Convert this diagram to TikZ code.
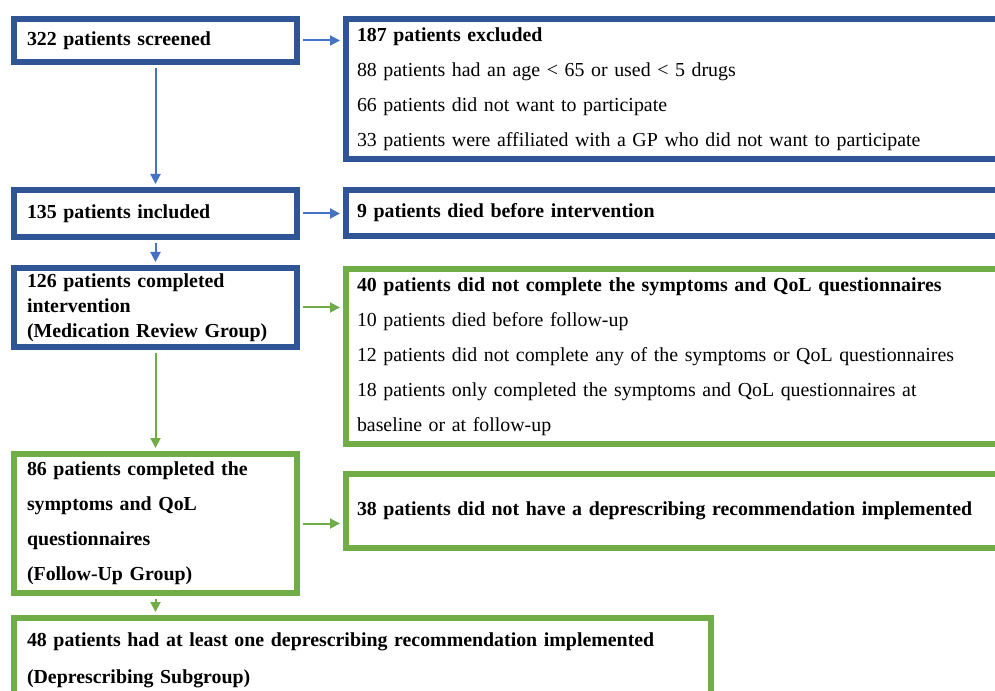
\documentclass[tikz,border=0pt]{standalone}
\usepackage{fontspec}
\setmainfont{Liberation Serif}
\usetikzlibrary{arrows.meta, positioning, calc}
\definecolor{boxblue}{RGB}{47, 85, 151}
\definecolor{arrowblue}{RGB}{68, 114, 196}
\definecolor{boxgreen}{RGB}{112, 173, 71}

\begin{document}
\begin{tikzpicture}[
    x=0.75pt, y=-0.75pt,
    box/.style={draw, line width=4.5pt, inner ysep=0pt, align=left, anchor=north west, font=\fontsize{14.9pt}{26.25pt}\selectfont},
    leftbox/.style={box, inner xsep=9.75pt, minimum width=212.25pt, text width=192.75pt},
    rightbox/.style={box, inner xsep=8.25pt, minimum width=500.25pt, text width=483.75pt},
    arrow/.style={-{Triangle[length=7.5pt, width=7.5pt]}, line width=1.5pt, shorten >=2.25pt, shorten <=2.25pt}
]
\useasboundingbox (0,0) rectangle (995,691);
\clip (0,0) rectangle (995,691);

% blue part
\node[leftbox, draw=boxblue, minimum height=32.25pt, font=\fontsize{14.9pt}{26.25pt}\selectfont\bfseries] (screened) at (11,16) {322 patients screened};
\node[rightbox, draw=boxblue, minimum height=105pt] (excluded) at (343,16) {\textbf{187 patients excluded}\\
    88 patients had an age < 65 or used < 5 drugs\\
    66 patients did not want to participate\\
    33 patients were affiliated with a GP who did not want to participate};

\node[leftbox, draw=boxblue, minimum height=35.25pt, font=\fontsize{14.9pt}{26.25pt}\selectfont\bfseries] (included) at (11,187) {135 patients included};
\node[rightbox, draw=boxblue, minimum height=34.5pt, font=\fontsize{14.9pt}{26.25pt}\selectfont\bfseries] (died) at (343,187) {9 patients died before intervention};

\node[leftbox, draw=boxblue, minimum height=59.25pt, font=\fontsize{14.9pt}{18.75pt}\selectfont\bfseries] (review) at (11,265) {126 patients completed\\ intervention\\ (Medication Review Group)};

% green part
\node[rightbox, draw=boxgreen, minimum height=131.25pt] (noqol) at (343,266) {\textbf{40 patients did not complete the symptoms and QoL questionnaires}\\
    10 patients died before follow-up\\
    12 patients did not complete any of the symptoms or QoL questionnaires\\
    18 patients only completed the symptoms and QoL questionnaires at\\
    baseline or at follow-up};

\node[leftbox, draw=boxgreen, minimum height=104.25pt, font=\fontsize{14.9pt}{26.25pt}\selectfont\bfseries] (followup) at (11,451) {86 patients completed the\\ symptoms and QoL\\ questionnaires\\ (Follow-Up Group)};
\node[rightbox, draw=boxgreen, minimum height=55.5pt, font=\fontsize{14.9pt}{26.25pt}\selectfont\bfseries] (noimpl) at (343,471) {38 patients did not have a deprescribing recommendation implemented};

\node[box, draw=boxgreen, inner xsep=9.75pt, text width=503.25pt, minimum height=63.75pt, font=\fontsize{14.9pt}{27.75pt}\selectfont\bfseries] (subgroup) at (11,615) {48 patients had at least one deprescribing recommendation implemented\\ (Deprescribing Subgroup)};

% arrows
\draw[arrow, arrowblue] (screened.east) -- (screened.east -| excluded.west);
\draw[arrow, arrowblue] (screened.south) -- (included.north);
\draw[arrow, arrowblue] (included.east) -- (included.east -| died.west);
\draw[arrow, arrowblue] (included.south) -- (review.north);
\draw[arrow, boxgreen] (review.east) -- (review.east -| noqol.west);
\draw[arrow, boxgreen] (review.south) -- (followup.north);
\draw[arrow, boxgreen] (followup.east) -- (followup.east -| noimpl.west);
\draw[arrow, boxgreen] (followup.south) -- (followup.south |- subgroup.north);

\end{tikzpicture}
\end{document}
